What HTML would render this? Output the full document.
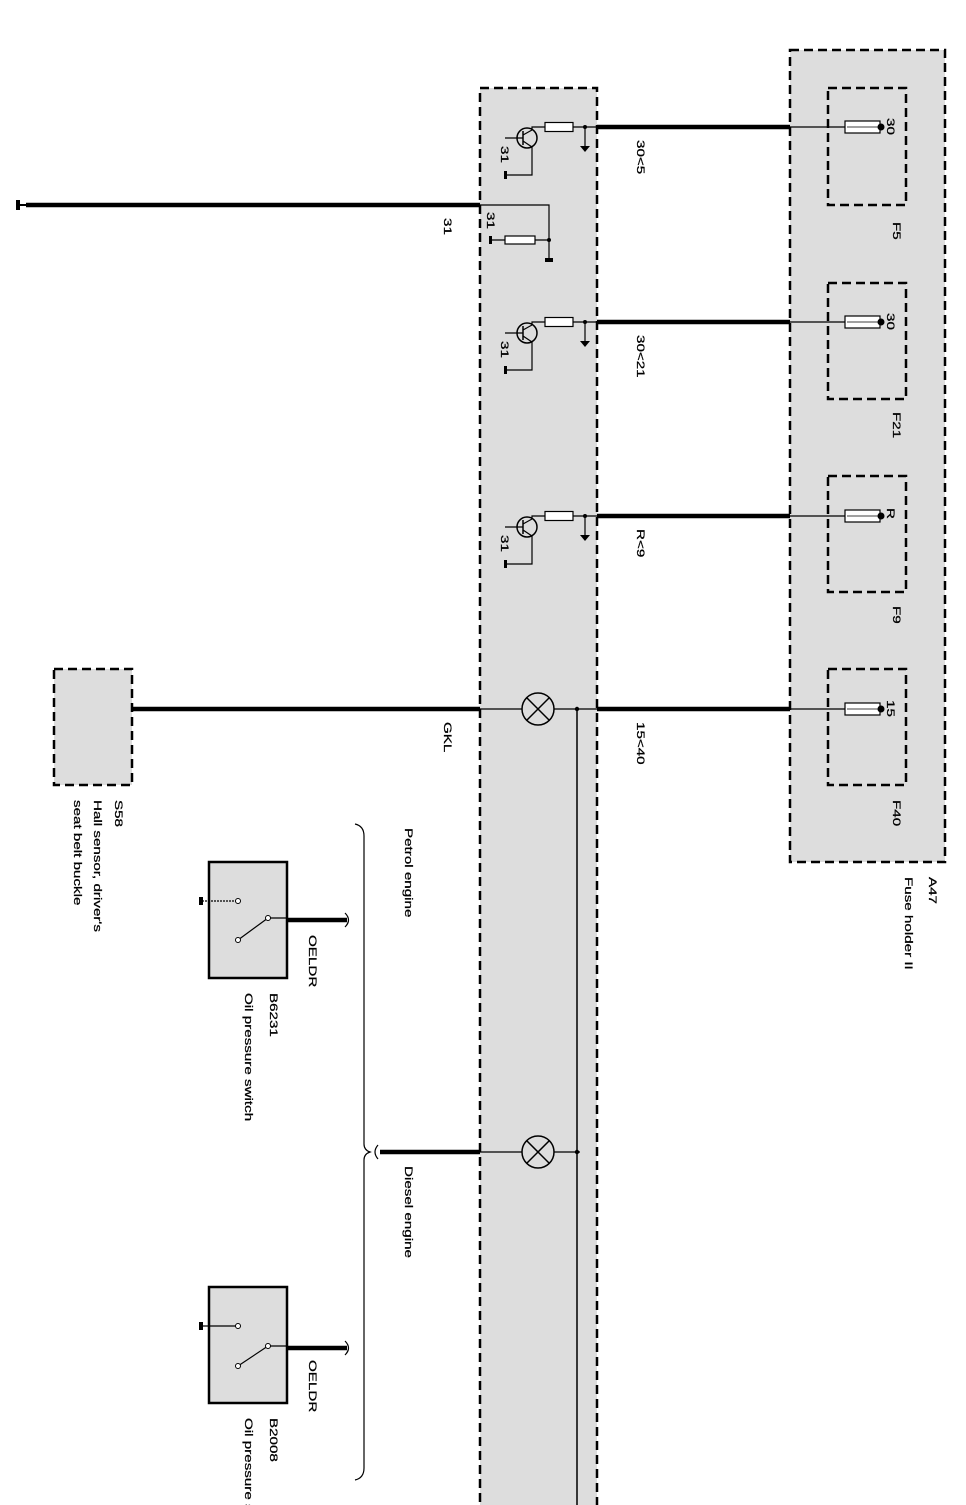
<!DOCTYPE html>
<html><head><meta charset="utf-8"><style>
html,body{margin:0;padding:0;background:#fff;}
svg{display:block;}
text{font-family:"Liberation Sans",sans-serif;font-size:11px;fill:#000;stroke:#000;stroke-width:0.25;}
</style></head><body>
<svg width="966" height="1505" viewBox="0 0 966 1505" xmlns="http://www.w3.org/2000/svg">
<defs>
<g id="tr">
  <circle cx="0" cy="0" r="10" fill="none" stroke="#000" stroke-width="1.5"/>
  <line x1="-4" y1="-7" x2="-4" y2="7" stroke="#000" stroke-width="1.5"/>
  <line x1="-22" y1="0" x2="-4" y2="0" stroke="#000" stroke-width="1.2"/>
  <line x1="-4" y1="-3" x2="5" y2="-8" stroke="#000" stroke-width="1.2"/>
  <line x1="-4" y1="3" x2="5" y2="9" stroke="#000" stroke-width="1.2"/>
  <polyline points="5,-8 5,-11 18,-11" fill="none" stroke="#000" stroke-width="1.2"/>
  <polyline points="5,9 5,37 -20,37" fill="none" stroke="#000" stroke-width="1.2"/>
  <rect x="-23" y="33" width="3" height="8" fill="#000"/>
  <rect x="18" y="-15.5" width="28" height="9" fill="#fff" stroke="#000" stroke-width="1.2"/>
  <line x1="46" y1="-11" x2="70" y2="-11" stroke="#000" stroke-width="1.2"/>
  <line x1="58" y1="-11" x2="58" y2="8" stroke="#000" stroke-width="1.2"/>
  <polygon points="53,8 63,8 58,14" fill="#000"/>
  <circle cx="58" cy="-11" r="2" fill="#000"/>
</g>
<g id="fuse">
  <line x1="0" y1="0" x2="55" y2="0" stroke="#000" stroke-width="1.2"/>
  <rect x="55" y="-6" width="35" height="12" fill="#fff" stroke="#000" stroke-width="1.2"/>
  <line x1="57" y1="0" x2="88" y2="0" stroke="#000" stroke-width="0.8"/>
  <circle cx="91" cy="0" r="3.5" fill="#000"/>
</g>
</defs>

<rect x="790" y="50" width="155" height="812" fill="#ddd" stroke="#000" stroke-width="2.5" stroke-dasharray="9,5"/>
<g fill="none" stroke="#000" stroke-width="2.5" stroke-dasharray="9,5">
<rect x="828" y="88" width="78" height="117"/>
<rect x="828" y="283" width="78" height="116"/>
<rect x="828" y="476" width="78" height="116"/>
<rect x="828" y="669" width="78" height="116"/>
</g>
<use href="#fuse" x="790" y="127"/>
<use href="#fuse" x="790" y="322"/>
<use href="#fuse" x="790" y="516"/>
<use href="#fuse" x="790" y="709"/>

<rect x="480" y="88" width="117" height="1430" fill="#ddd" stroke="#000" stroke-width="2.5" stroke-dasharray="9,5"/>

<rect x="54" y="669" width="78" height="116" fill="#ddd" stroke="#000" stroke-width="2.5" stroke-dasharray="9,5"/>

<g stroke="#000" stroke-width="4.5">
<line x1="597" y1="127" x2="790" y2="127"/>
<line x1="597" y1="322" x2="790" y2="322"/>
<line x1="597" y1="516" x2="790" y2="516"/>
<line x1="597" y1="709" x2="790" y2="709"/>
<line x1="26" y1="205" x2="480" y2="205"/>
<line x1="132" y1="709" x2="480" y2="709"/>
<line x1="380" y1="1152" x2="480" y2="1152"/>
<line x1="287" y1="920" x2="347" y2="920"/>
<line x1="287" y1="1348" x2="347" y2="1348"/>
</g>
<rect x="16" y="200" width="4" height="10" fill="#000"/>
<line x1="18" y1="205" x2="26" y2="205" stroke="#000" stroke-width="2"/>

<use href="#tr" x="527" y="138"/>
<use href="#tr" x="527" y="333"/>
<use href="#tr" x="527" y="527"/>
<text transform="translate(501,146) rotate(90) scale(1.38,1)">31</text>
<text transform="translate(501,341) rotate(90) scale(1.38,1)">31</text>
<text transform="translate(501,535) rotate(90) scale(1.38,1)">31</text>

<polyline points="480,205 549,205 549,258" fill="none" stroke="#000" stroke-width="1.2"/>
<circle cx="549" cy="240" r="2" fill="#000"/>
<line x1="490" y1="240" x2="549" y2="240" stroke="#000" stroke-width="1.2"/>
<rect x="505" y="236" width="30" height="8" fill="#fff" stroke="#000" stroke-width="1.2"/>
<rect x="489" y="236" width="3" height="8" fill="#000"/>
<rect x="545" y="258" width="8" height="4" fill="#000"/>
<text transform="translate(487,212) rotate(90) scale(1.38,1)">31</text>

<line x1="480" y1="709" x2="597" y2="709" stroke="#000" stroke-width="1.2"/>
<line x1="480" y1="1152" x2="580" y2="1152" stroke="#000" stroke-width="1.2"/>
<line x1="577" y1="709" x2="577" y2="1505" stroke="#000" stroke-width="1.5"/>
<circle cx="577" cy="709" r="2.2" fill="#000"/>
<circle cx="577" cy="1152" r="2.2" fill="#000"/>
<g fill="#ddd" stroke="#000" stroke-width="1.5">
<circle cx="538" cy="709" r="16"/>
<circle cx="538" cy="1152" r="16"/>
</g>
<g stroke="#000" stroke-width="1.5">
<line x1="527" y1="698" x2="549" y2="720"/><line x1="549" y1="698" x2="527" y2="720"/>
<line x1="527" y1="1141" x2="549" y2="1163"/><line x1="549" y1="1141" x2="527" y2="1163"/>
</g>

<g>
<rect x="209" y="862" width="78" height="116" fill="#ddd" stroke="#000" stroke-width="2.5"/>
<line x1="268" y1="918" x2="287" y2="918" stroke="#000" stroke-width="1.2"/>
<line x1="268" y1="918" x2="238" y2="940" stroke="#000" stroke-width="1.2"/>
<line x1="202" y1="901" x2="238" y2="901" stroke="#000" stroke-width="1.2" stroke-dasharray="2,1"/>
<circle cx="268" cy="918" r="2.5" fill="#fff" stroke="#000"/>
<circle cx="238" cy="940" r="2.5" fill="#fff" stroke="#000"/>
<circle cx="238" cy="901" r="2.5" fill="#fff" stroke="#000"/>
<rect x="199" y="897" width="4" height="8" fill="#000"/>
<path d="M345,913 Q352,920 345,927" fill="none" stroke="#000" stroke-width="1.2"/>
</g>
<g>
<rect x="209" y="1287" width="78" height="116" fill="#ddd" stroke="#000" stroke-width="2.5"/>
<line x1="268" y1="1346" x2="287" y2="1346" stroke="#000" stroke-width="1.2"/>
<line x1="268" y1="1346" x2="238" y2="1366" stroke="#000" stroke-width="1.2"/>
<line x1="202" y1="1326" x2="238" y2="1326" stroke="#000" stroke-width="1.2"/>
<circle cx="268" cy="1346" r="2.5" fill="#fff" stroke="#000"/>
<circle cx="238" cy="1366" r="2.5" fill="#fff" stroke="#000"/>
<circle cx="238" cy="1326" r="2.5" fill="#fff" stroke="#000"/>
<rect x="199" y="1322" width="4" height="8" fill="#000"/>
<path d="M345,1341 Q352,1348 345,1355" fill="none" stroke="#000" stroke-width="1.2"/>
</g>

<path d="M355,824 Q364,826 364,836 L364,1144 Q364,1150 370,1152 Q364,1154 364,1160 L364,1468 Q364,1478 355,1480" fill="none" stroke="#000" stroke-width="1.2"/>
<path d="M378,1145 Q372,1152 378,1159" fill="none" stroke="#000" stroke-width="1.2"/>

<text transform="translate(637,140) rotate(90) scale(1.38,1)">30&lt;5</text>
<text transform="translate(637,335) rotate(90) scale(1.38,1)">30&lt;21</text>
<text transform="translate(637,529) rotate(90) scale(1.38,1)">R&lt;9</text>
<text transform="translate(637,722) rotate(90) scale(1.38,1)">15&lt;40</text>
<text transform="translate(444,218) rotate(90) scale(1.38,1)">31</text>
<text transform="translate(444,722) rotate(90) scale(1.38,1)">GKL</text>
<text transform="translate(887,118) rotate(90) scale(1.38,1)">30</text>
<text transform="translate(887,313) rotate(90) scale(1.38,1)">30</text>
<text transform="translate(887,508) rotate(90) scale(1.38,1)">R</text>
<text transform="translate(887,700) rotate(90) scale(1.38,1)">15</text>
<text transform="translate(893,222) rotate(90) scale(1.38,1)">F5</text>
<text transform="translate(893,412) rotate(90) scale(1.38,1)">F21</text>
<text transform="translate(893,606) rotate(90) scale(1.38,1)">F9</text>
<text transform="translate(893,800) rotate(90) scale(1.38,1)">F40</text>
<text transform="translate(929,877) rotate(90) scale(1.38,1)">A47</text>
<text transform="translate(905,877) rotate(90) scale(1.38,1)">Fuse holder II</text>
<text transform="translate(115,800) rotate(90) scale(1.38,1)">S58</text>
<text transform="translate(94,800) rotate(90) scale(1.38,1)">Hall sensor, driver's</text>
<text transform="translate(74,800) rotate(90) scale(1.38,1)">seat belt buckle</text>
<text transform="translate(405,828) rotate(90) scale(1.38,1)">Petrol engine</text>
<text transform="translate(405,1166) rotate(90) scale(1.38,1)">Diesel engine</text>
<text transform="translate(309,935) rotate(90) scale(1.38,1)">OELDR</text>
<text transform="translate(309,1360) rotate(90) scale(1.38,1)">OELDR</text>
<text transform="translate(270,993) rotate(90) scale(1.38,1)">B6231</text>
<text transform="translate(245,993) rotate(90) scale(1.38,1)">Oil pressure switch</text>
<text transform="translate(270,1418) rotate(90) scale(1.38,1)">B2008</text>
<text transform="translate(245,1418) rotate(90) scale(1.38,1)">Oil pressure s</text>
</svg>
</body></html>
